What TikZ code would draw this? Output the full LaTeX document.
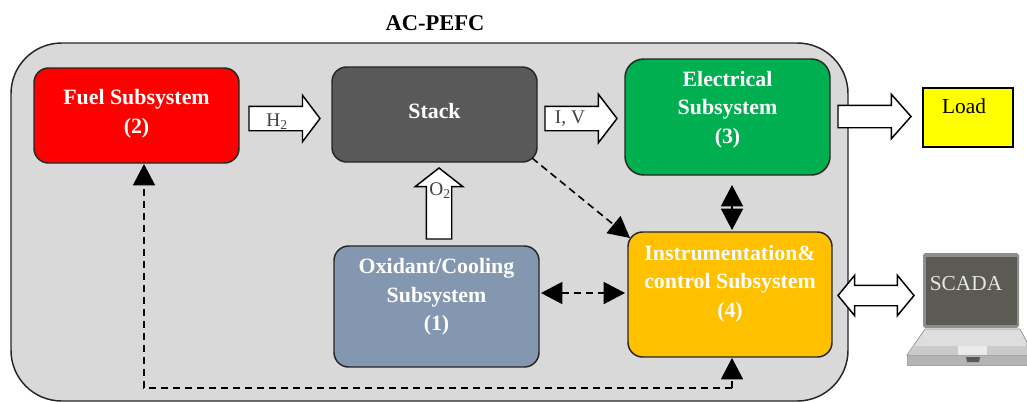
\documentclass[tikz,border=0pt]{standalone}
\usepackage{fontspec}
\setmainfont{Liberation Serif}
\usetikzlibrary{arrows.meta,calc,shapes.arrows}
\def\u{.75pt}
\definecolor{outerfill}{HTML}{D9D9D9}
\definecolor{stackfill}{HTML}{595959}
\definecolor{elecfill}{HTML}{00B050}
\definecolor{oxifill}{HTML}{8497B0}
\definecolor{instfill}{HTML}{FFC000}
\definecolor{fuelfill}{HTML}{FF0000}
\definecolor{loadfill}{HTML}{FFFF00}
\definecolor{screenfill}{HTML}{5C5B53}
\definecolor{lidfill}{HTML}{8E8E8E}
\definecolor{deckfill}{HTML}{DEDEDE}
\definecolor{frontfill}{HTML}{B4B4B4}
\tikzset{
  x=.75pt,y=-.75pt,
  subbox/.style={draw=black!85,line width=1.1pt,rounded corners=11pt,inner sep=0pt,outer sep=0pt},
  boxtext/.style={text=white,font=\fontsize{16.4}{21.4}\selectfont\bfseries,align=center,inner sep=0pt},
  flowtext/.style={text=black!75,font=\fontsize{14.5}{16}\selectfont,inner sep=0pt},
  blockarrow/.style={draw=black,fill=white,line width=1.1pt,single arrow,inner sep=0pt,outer sep=0pt,anchor=tail,single arrow head indent=0pt,text width=0pt,text depth=0pt},
  dashlink/.style={draw=black,line width=1.2pt,dash pattern=on 5.5pt off 3.5pt,-{Triangle[length=16pt,width=16.5pt]}},
  biglink/.style={line width=1.2pt,{Triangle[length=16pt,width=16.5pt]}-{Triangle[length=16pt,width=16.5pt]}},
}
\begin{document}
\begin{tikzpicture}
\useasboundingbox (0,0) rectangle (1027,401);
% enclosure
\node[draw=black!85,fill=outerfill,line width=1.1pt,rounded corners=38pt,inner sep=0pt,outer sep=0pt,minimum width={837*\u},minimum height={358*\u}] (outer) at (429.5,222) {};
\node[font=\fontsize{16.9}{20}\selectfont\bfseries,inner sep=0pt] (title) at (435,23) {AC-PEFC};
% subsystems
\node[subbox,fill=fuelfill,minimum width={205*\u},minimum height={95*\u}] (fuel) at (136.5,115.5) {};
\node[subbox,fill=stackfill,minimum width={205*\u},minimum height={95*\u}] (stack) at (434.5,114.5) {};
\node[subbox,fill=elecfill,minimum width={205*\u},minimum height={116*\u},rounded corners=14pt] (elec) at (727.5,117) {};
\node[subbox,fill=oxifill,minimum width={205*\u},minimum height={121*\u}] (oxi) at (436.5,306.5) {};
\node[subbox,fill=instfill,minimum width={204*\u},minimum height={125*\u}] (inst) at (730,294.5) {};
\node[draw=black,fill=loadfill,line width=.9pt,minimum width={90*\u},minimum height={59*\u},inner sep=0pt,outer sep=0pt] (load) at (968,117.5) {};
% subsystem texts
\node[boxtext] (fueltext) at (136.5,114) {Fuel Subsystem\\(2)};
\node[boxtext] (stacktext) at (434.5,111) {Stack};
\node[boxtext] (electext) at (727.5,109.5) {Electrical\\Subsystem\\(3)};
\node[boxtext] (oxitext) at (436.5,297) {Oxidant/Cooling\\Subsystem\\(1)};
\node[boxtext] (insttext) at (730,283.5) {Instrumentation\&\\control Subsystem\\(4)};
\node[font=\fontsize{16}{18}\selectfont,inner sep=0pt] (loadtext) at (964,106) {Load};
% laptop
\fill[frontfill,draw=black!35,line width=.4pt] (907,355) -- (1027,355) -- (1027,365) -- (907,365) -- cycle;
\fill[deckfill,draw=black!45,line width=.5pt] (925,329) -- (1020,329) -- (1027,342) -- (1027,355) -- (907,355) -- cycle;
\fill[frontfill!70!white] (915,346) -- (1027,346) -- (1027,355) -- (908,355) -- cycle;
\fill[deckfill!60!white] (958,346) -- (987,346) -- (987,355) -- (958,355) -- cycle;
\fill[black!65] (966,357) -- (980,357) -- (979,362) -- (967,362) -- cycle;
\fill[lidfill,rounded corners=2pt] (923,253) rectangle (1019,328);
\node[fill=screenfill,minimum width={91*\u},minimum height={68*\u},inner sep=0pt,outer sep=0pt] (screen) at (971.5,291) {};
\node[text=white!90!black,font=\fontsize{16}{18}\selectfont,inner sep=0pt] (scada) at (966,284) {SCADA};
% block arrows
\node[blockarrow,text height={23*\u},minimum height={71*\u},single arrow head extend={11*\u},single arrow tip angle=106] (hflow) at (249,118.5) {};
\node[flowtext] (htext) at (277,122) {H\textsubscript{2}};
\node[blockarrow,text height={23*\u},minimum height={72*\u},single arrow head extend={12*\u},single arrow tip angle=105] (ivflow) at (545,118.5) {};
\node[flowtext] (ivtext) at (570,119) {I, V};
\node[blockarrow,text height={21*\u},minimum height={73*\u},single arrow head extend={11*\u},single arrow tip angle=97] (loadflow) at (838,116.5) {};
\node[blockarrow,text height={24*\u},minimum height={71*\u},single arrow head extend={11*\u},single arrow tip angle=104,rotate=90] (oflow) at (439,239) {};
\node[flowtext] (otext) at (440,191) {O\textsubscript{2}};
\node[draw=black,fill=white,line width=1.1pt,double arrow,inner sep=0pt,outer sep=0pt,text width=0pt,text depth=0pt,text height={19*\u},minimum height={76*\u},double arrow head extend={10*\u},double arrow tip angle=101,double arrow head indent=0pt] (scadaflow) at (876,295.5) {};
% signal links
\draw[dashlink] ($(stack.south east)+(-5,-4)$) -- ($(inst.north west)+(2,6)$);
\draw[dashlink,{Triangle[length=16pt,width=16.5pt]}-{Triangle[length=16pt,width=16.5pt]}] ($(oxi.east)+(2,-13.5)$) -- ($(inst.west)+(-3,-1.5)$);
\draw[biglink] ($(elec.south)+(4.5,10)$) -- ($(inst.north)+(2,-2)$);
\draw[dashlink] ($(inst.south)+(2,31)$) -| ($(fuel.south)+(7.5,1)$);
\draw[dashlink] ($(inst.south)+(2,31)$) -- ($(inst.south)+(2,1)$);
\end{tikzpicture}
\end{document}
